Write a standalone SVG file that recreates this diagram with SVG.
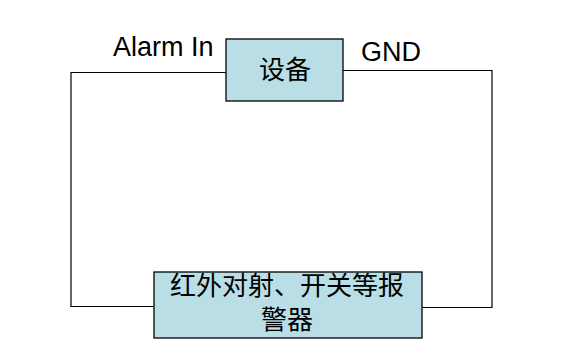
<svg xmlns="http://www.w3.org/2000/svg" width="584" height="364" viewBox="0 0 584 364">
<style>
.box{fill:#b9dee5;stroke:#000;stroke-width:1.3}
.wire{fill:none;stroke:#000;stroke-width:1.2}
.lbl{font-family:"Liberation Sans","Noto Sans CJK SC",sans-serif;font-size:27px;fill:#000}
.cn{font-family:"Liberation Sans","Noto Sans CJK SC",sans-serif;font-size:26px;fill:#000;text-anchor:middle}
</style>
<rect width="584" height="364" fill="#fff"/>
<g id="connectors">
<polyline class="wire" points="226,72.5 71,72.5 71,306.5 154,306.5"/>
<polyline class="wire" points="343,70.5 492,70.5 492,307.5 422,307.5"/>
</g>
<g id="device">
<rect class="box" x="226" y="39" width="117" height="62"/>
<text class="cn" x="285" y="79">设备</text>
</g>
<g id="alarm">
<rect class="box" x="154" y="272" width="268" height="66"/>
<text class="cn" x="287" y="295">红外对射、开关等报</text>
<text class="cn" x="287" y="329">警器</text>
</g>
<g id="labels">
<text class="lbl" x="113" y="56">Alarm In</text>
<text class="lbl" x="361" y="61">GND</text>
</g>
</svg>
